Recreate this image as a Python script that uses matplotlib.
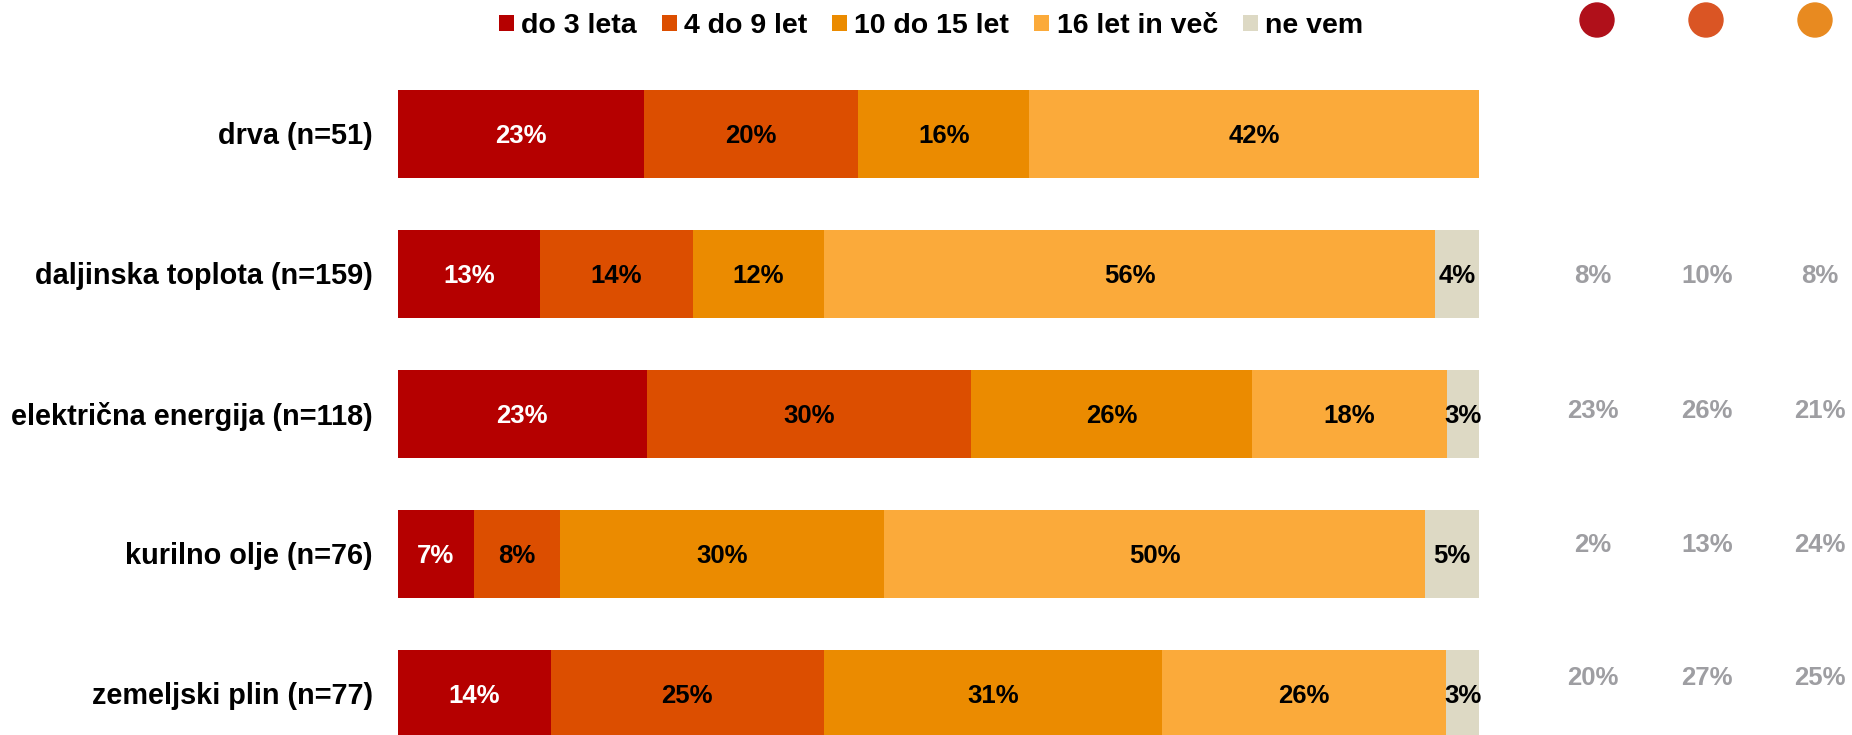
import matplotlib.pyplot as plt
from matplotlib.patches import Patch, Ellipse

plt.rcParams['font.family'] = ['Liberation Sans', 'DejaVu Sans']
plt.rcParams['font.weight'] = 'bold'

categories = ["drva (n=51)", "daljinska toplota (n=159)", "električna energija (n=118)",
              "kurilno olje (n=76)", "zemeljski plin (n=77)"]
series_names = ["do 3 leta", "4 do 9 let", "10 do 15 let", "16 let in več", "ne vem"]
do3 = [23, 13, 23, 7, 14]
od4do9 = [20, 14, 30, 8, 25]
od10do15 = [16, 12, 26, 30, 31]
nad16 = [42, 56, 18, 50, 26]
ne_vem = [0, 4, 3, 5, 3]

# side columns (no value for drva)
side_1 = [None, 8, 23, 2, 20]
side_2 = [None, 10, 26, 13, 27]
side_3 = [None, 8, 21, 24, 25]

colors = ["#B50000", "#DC4E00", "#EB8B00", "#FBAA3A", "#DDD9C4"]
text_colors = ["white", "black", "black", "black", "black"]
circle_colors = ["#B0101A", "#DA5524", "#E88A20"]

W, H = 1852, 735
fig = plt.figure(figsize=(W / 100, H / 100), dpi=100)
ax = fig.add_axes([398 / W, 0, (1479 - 398) / W, 1])

# row i center at pixel 134 + 140*i
pitch = 140.0
y0 = 134.0
ax.set_ylim((H - y0) / pitch, -y0 / pitch)
ax.set_xlim(0, 100)
ax.axis('off')

dy = 0.016  # small nudge so text sits like the original
series = [do3, od4do9, od10do15, nad16, ne_vem]
for i, cat in enumerate(categories):
    total = sum(s[i] for s in series)
    left = 0
    for k, s in enumerate(series):
        v = s[i]
        if v == 0:
            continue
        w = v / total * 100
        ax.barh(i, w, left=left, height=0.63, color=colors[k], edgecolor='none')
        ax.text(left + w / 2, i + dy, f"{v}%", ha='center', va='center',
                fontsize=18.5, color=text_colors[k], fontweight='bold')
        left += w
    ax.text(-25 / 1081 * 100, i + dy, cat, ha='right', va='center',
            fontsize=20.8, fontweight='bold', color='black')

# side table
col_x = [1593, 1707, 1820]
row_y = [None, 276, 411, 545, 678]
for c, col in enumerate([side_1, side_2, side_3]):
    for i, v in enumerate(col):
        if v is None:
            continue
        fig.text(col_x[c] / W, 1 - row_y[i] / H, f"{v}%", ha='center', va='center',
                 fontsize=18.5, fontweight='bold', color='#9E9EA2')

# circles at top right
for c, cx in enumerate([1597, 1706, 1815]):
    r = 17
    fig.add_artist(Ellipse((cx / W, 1 - 20 / H), 2 * r / W, 2 * r / H,
                           transform=fig.transFigure, color=circle_colors[c]))

handles = [Patch(facecolor=colors[k], edgecolor='none') for k in range(5)]
fig.legend(handles, series_names, loc='center', bbox_to_anchor=(931 / W, 1 - 26 / H),
           ncol=5, frameon=False, fontsize=20.5, handlelength=0.53, handleheight=0.53,
           handletextpad=0.25, columnspacing=0.88, borderpad=0, borderaxespad=0)

fig.savefig("out.png", dpi=100)
